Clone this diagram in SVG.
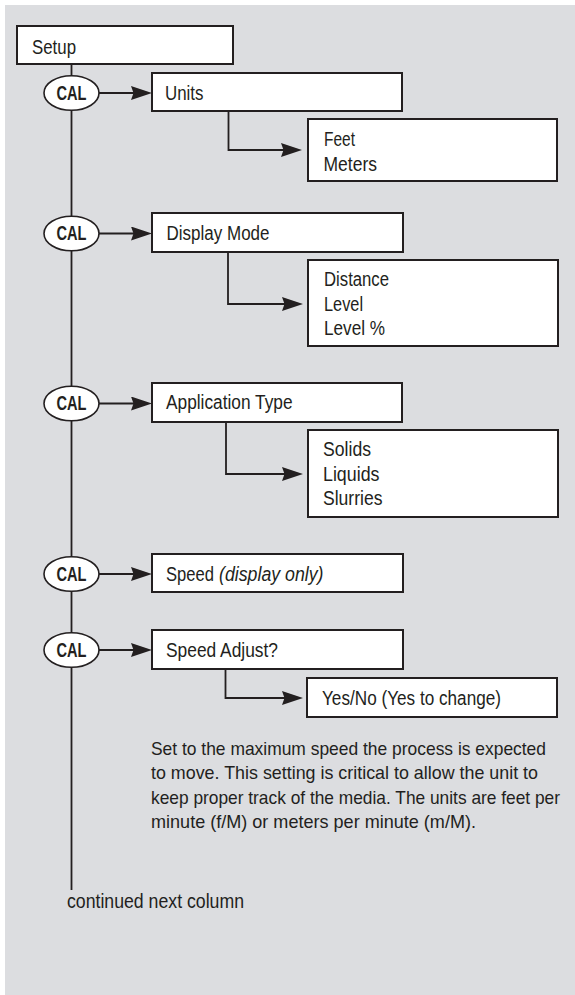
<svg xmlns="http://www.w3.org/2000/svg" width="575" height="995" viewBox="0 0 575 995">
<style>
.bg{fill:#dcdde0}
.box{fill:#ffffff;stroke:#231f20;stroke-width:2}
.cal{fill:#ffffff;stroke:#231f20;stroke-width:1.6}
.ln{fill:none;stroke:#231f20;stroke-width:1.8}
.t{font-family:"Liberation Sans",Arial,sans-serif;font-size:20px;fill:#231f20}
.p{font-family:"Liberation Sans",Arial,sans-serif;font-size:17.8px;fill:#231f20}
.c{font-family:"Liberation Sans",Arial,sans-serif;font-size:20px;font-weight:bold;fill:#231f20;text-anchor:middle}
.i{font-style:italic}
</style>
<defs>
<marker id="ah" markerUnits="userSpaceOnUse" markerWidth="22" markerHeight="14" viewBox="0 0 22 14" refX="13" refY="7" orient="auto">
<path d="M0,0 L21,7 L0,14 L2.5,7 Z" fill="#231f20"/>
</marker>
</defs>
<rect x="0" y="0" width="575" height="995" fill="#ffffff"/>
<rect class="bg" x="5" y="5" width="570" height="990"/>

<g id="connectors">
<line class="ln" x1="71.5" y1="64" x2="71.5" y2="890"/>
<line class="ln" x1="99" y1="93" x2="144" y2="93" marker-end="url(#ah)"/>
<line class="ln" x1="99" y1="233.5" x2="144" y2="233.5" marker-end="url(#ah)"/>
<line class="ln" x1="99" y1="403.5" x2="144" y2="403.5" marker-end="url(#ah)"/>
<line class="ln" x1="99" y1="574" x2="144" y2="574" marker-end="url(#ah)"/>
<line class="ln" x1="99" y1="650" x2="144" y2="650" marker-end="url(#ah)"/>
<polyline class="ln" points="228.5,111 228.5,150 294,150" marker-end="url(#ah)"/>
<polyline class="ln" points="228,252 228,304 295,304" marker-end="url(#ah)"/>
<polyline class="ln" points="226,422 226,474 295,474" marker-end="url(#ah)"/>
<polyline class="ln" points="225.5,669 225.5,698 295,698" marker-end="url(#ah)"/>
</g>

<g id="setup">
<rect class="box" x="17" y="26" width="216" height="38"/>
<text class="t" x="32" y="53.5" textLength="44" lengthAdjust="spacingAndGlyphs">Setup</text>
</g>

<g id="cal1">
<ellipse class="cal" cx="71.5" cy="93" rx="27.5" ry="17.3"/>
<text class="c" x="71.5" y="99.5" textLength="30" lengthAdjust="spacingAndGlyphs">CAL</text>
</g>
<g id="cal2">
<ellipse class="cal" cx="71.5" cy="233.5" rx="27.5" ry="17.3"/>
<text class="c" x="71.5" y="240" textLength="30" lengthAdjust="spacingAndGlyphs">CAL</text>
</g>
<g id="cal3">
<ellipse class="cal" cx="71.5" cy="403.5" rx="27.5" ry="17.3"/>
<text class="c" x="71.5" y="410" textLength="30" lengthAdjust="spacingAndGlyphs">CAL</text>
</g>
<g id="cal4">
<ellipse class="cal" cx="71.5" cy="574" rx="27.5" ry="17.3"/>
<text class="c" x="71.5" y="580.5" textLength="30" lengthAdjust="spacingAndGlyphs">CAL</text>
</g>
<g id="cal5">
<ellipse class="cal" cx="71.5" cy="650" rx="27.5" ry="17.3"/>
<text class="c" x="71.5" y="656.5" textLength="30" lengthAdjust="spacingAndGlyphs">CAL</text>
</g>

<g id="units">
<rect class="box" x="152" y="73" width="250" height="38"/>
<text class="t" x="165" y="100" textLength="38.5" lengthAdjust="spacingAndGlyphs">Units</text>
</g>
<g id="units-options">
<rect class="box" x="308" y="119" width="249" height="62"/>
<text class="t" x="324" y="146" textLength="31" lengthAdjust="spacingAndGlyphs">Feet</text>
<text class="t" x="323.5" y="171" textLength="53.5" lengthAdjust="spacingAndGlyphs">Meters</text>
</g>

<g id="display-mode">
<rect class="box" x="152" y="213" width="251" height="39"/>
<text class="t" x="166.5" y="239.5" textLength="103" lengthAdjust="spacingAndGlyphs">Display Mode</text>
</g>
<g id="display-options">
<rect class="box" x="308" y="260" width="250" height="86"/>
<text class="t" x="324" y="286" textLength="65" lengthAdjust="spacingAndGlyphs">Distance</text>
<text class="t" x="324" y="311" textLength="39" lengthAdjust="spacingAndGlyphs">Level</text>
<text class="t" x="324" y="335" textLength="61" lengthAdjust="spacingAndGlyphs">Level %</text>
</g>

<g id="application-type">
<rect class="box" x="152" y="383" width="250" height="39"/>
<text class="t" x="166" y="409" textLength="126.5" lengthAdjust="spacingAndGlyphs">Application Type</text>
</g>
<g id="application-options">
<rect class="box" x="308" y="430" width="250" height="87"/>
<text class="t" x="323" y="456" textLength="48" lengthAdjust="spacingAndGlyphs">Solids</text>
<text class="t" x="323" y="481" textLength="56.5" lengthAdjust="spacingAndGlyphs">Liquids</text>
<text class="t" x="323" y="505" textLength="59.5" lengthAdjust="spacingAndGlyphs">Slurries</text>
</g>

<g id="speed">
<rect class="box" x="152" y="554" width="251" height="38"/>
<text class="t" x="166" y="580.5" textLength="48" lengthAdjust="spacingAndGlyphs">Speed</text>
<text class="t i" x="219" y="580.5" textLength="104.5" lengthAdjust="spacingAndGlyphs">(display only)</text>
</g>

<g id="speed-adjust">
<rect class="box" x="152" y="630" width="251" height="39"/>
<text class="t" x="166" y="656.5" textLength="112" lengthAdjust="spacingAndGlyphs">Speed Adjust?</text>
</g>
<g id="speed-adjust-options">
<rect class="box" x="307" y="678" width="250" height="39"/>
<text class="t" x="322" y="705" textLength="179" lengthAdjust="spacingAndGlyphs">Yes/No (Yes to change)</text>
</g>

<g id="note">
<text class="p" x="151" y="754.5" textLength="395" lengthAdjust="spacingAndGlyphs">Set to the maximum speed the process is expected</text>
<text class="p" x="151" y="779" textLength="387" lengthAdjust="spacingAndGlyphs">to move. This setting is critical to allow the unit to</text>
<text class="p" x="151" y="803.5" textLength="409" lengthAdjust="spacingAndGlyphs">keep proper track of the media. The units are feet per</text>
<text class="p" x="151" y="828" textLength="325" lengthAdjust="spacingAndGlyphs">minute (f/M) or meters per minute (m/M).</text>
</g>

<g id="continued">
<text class="t" x="67" y="908" textLength="177" lengthAdjust="spacingAndGlyphs">continued next column</text>
</g>
</svg>
